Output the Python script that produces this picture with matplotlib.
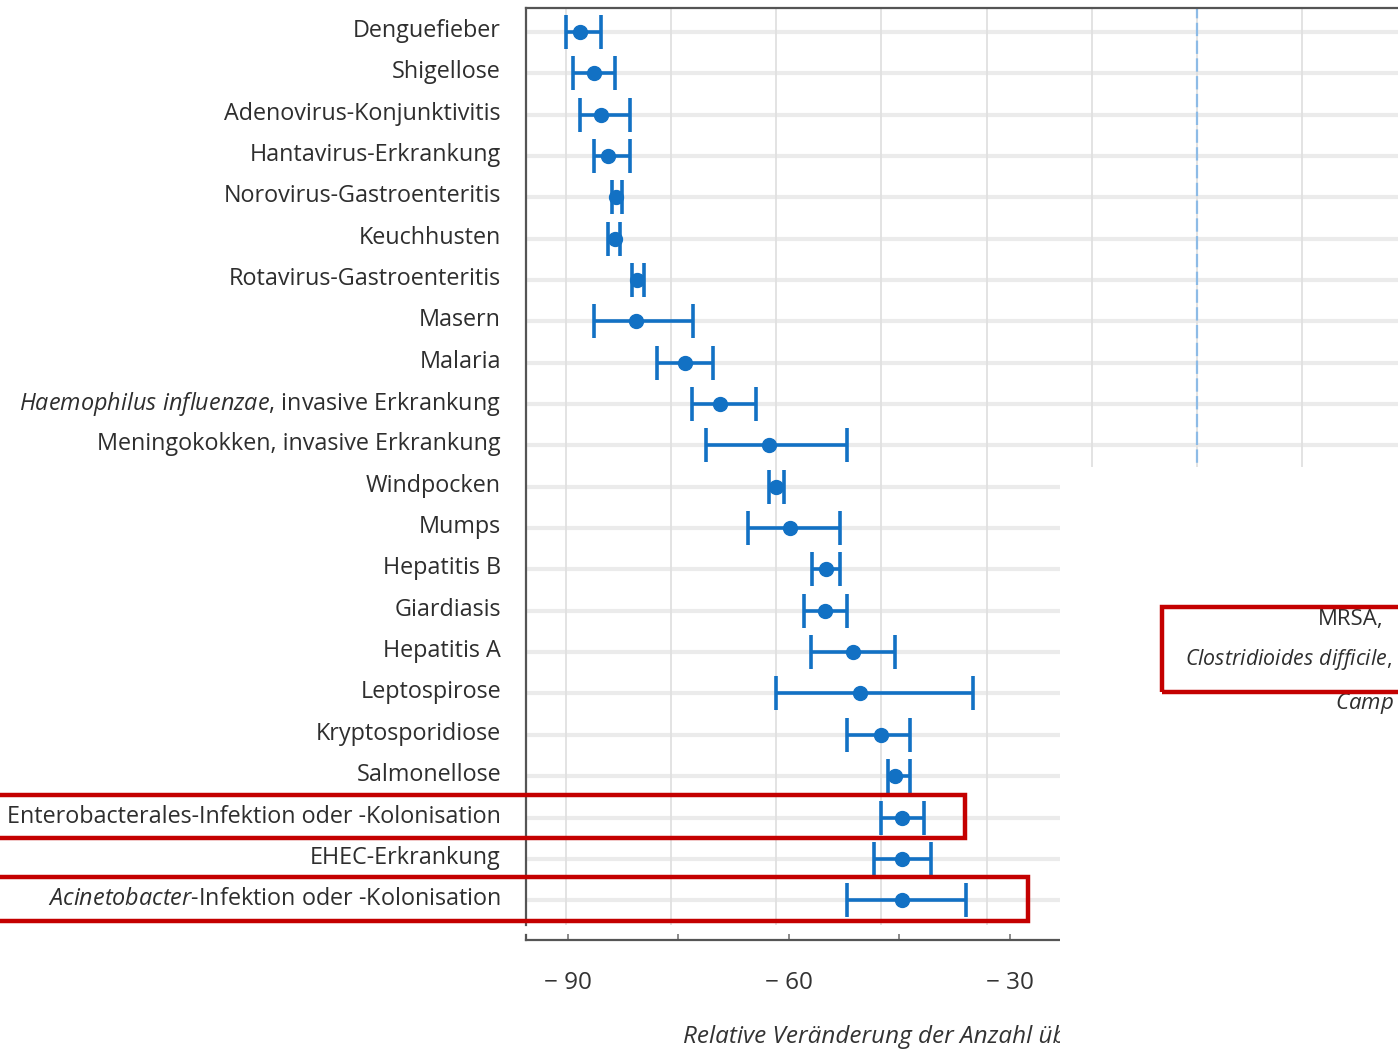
import matplotlib
matplotlib.use('Agg')
import matplotlib.pyplot as plt
import matplotlib.transforms as mtransforms
from matplotlib.patches import Rectangle

plt.rcParams['font.family'] = ['Open Sans', 'DejaVu Sans']
plt.rcParams['mathtext.fontset'] = 'custom'
plt.rcParams['mathtext.rm'] = 'Open Sans'
plt.rcParams['mathtext.it'] = 'Open Sans:italic'

diseases = [
    'Denguefieber', 'Shigellose', 'Adenovirus-Konjunktivitis', 'Hantavirus-Erkrankung',
    'Norovirus-Gastroenteritis', 'Keuchhusten', 'Rotavirus-Gastroenteritis', 'Masern',
    'Malaria', r'$\mathit{Haemophilus\ influenzae}$, invasive Erkrankung',
    'Meningokokken, invasive Erkrankung', 'Windpocken', 'Mumps', 'Hepatitis B',
    'Giardiasis', 'Hepatitis A', 'Leptospirose', 'Kryptosporidiose', 'Salmonellose',
    'Enterobacterales-Infektion oder -Kolonisation', 'EHEC-Erkrankung',
    r'$\mathit{Acinetobacter}$-Infektion oder -Kolonisation',
]
estimate = [-88.0, -86.0, -85.0, -84.0, -82.9, -83.0, -79.9, -80.0, -73.0, -68.0, -61.1,
            -60.1, -58.1, -52.9, -53.1, -49.1, -48.1, -45.1, -43.1, -42.1, -42.1, -42.1]
ci_low = [-90.0, -89.0, -88.0, -86.0, -83.5, -84.0, -80.6, -86.0, -77.0, -72.0, -70.0,
          -61.1, -64.1, -54.9, -56.1, -55.1, -60.1, -49.9, -44.1, -45.1, -46.1, -49.9]
ci_high = [-85.0, -83.0, -80.9, -80.9, -82.0, -82.3, -78.9, -71.9, -69.0, -62.9, -49.9,
           -58.9, -50.9, -50.9, -49.9, -43.1, -32.0, -40.9, -40.9, -38.9, -37.9, -33.0]
highlighted = [19, 21]
x_ticks = [-90, -75, -60, -45, -30]
x_ticklabels = ['\u2212 90', '', '\u2212 60', '', '\u2212 30']

# cut-off labels of the neighbouring panel
other_labels = ['MRSA,', r'$\mathit{Clostridioides\ difficile}$,', r'$\mathit{Camp}$']

blue = '#1271c4'
red = '#c40000'
txt = '#2e2e2e'
W, H = 1398, 1052

fig = plt.figure(figsize=(W / 100, H / 100), dpi=100)
ax = fig.add_axes([526 / W, 1 - 925 / H, 1 - 526 / W, (925 - 8) / H])

ypos = list(range(len(diseases)))
err = [[e - l for e, l in zip(estimate, ci_low)], [h - e for e, h in zip(estimate, ci_high)]]
ax.errorbar(estimate, ypos, xerr=err, fmt='o', color=blue, ms=10, elinewidth=2.6,
            capsize=12, capthick=2.6, zorder=3)
ax.axvline(0, color='#8dbbe6', lw=1.6, ls=(0, (6, 2)), zorder=2)

for y in ypos:
    ax.axhline(y, color='#ebebeb', lw=3, zorder=1)
for x in range(-90, 30, 15):
    ax.axvline(x, color='#e0e0e0', lw=1.3, zorder=1)

ax.set_xlim(-95.7, 28.7)
ax.set_ylim(21.6, -0.58)
ax.set_yticks(ypos)
ax.set_yticklabels(diseases, fontsize=16.8, color=txt)
ax.tick_params(axis='y', length=0, pad=18)
shift = mtransforms.ScaledTranslation(0, 4 / 100, fig.dpi_scale_trans)
for lab in ax.get_yticklabels():
    lab.set_transform(lab.get_transform() + shift)
ax.set_xticks([])
for s in ['bottom', 'right']:
    ax.spines[s].set_visible(False)
for s in ['top', 'left']:
    ax.spines[s].set_color('#555555')
    ax.spines[s].set_linewidth(1.6)

# separate bottom axis strip
bx = fig.add_axes([526 / W, 1 - 940 / H, (1060 - 526) / W, 5 / H])
bx.set_xlim(-95.7, -23.2)
bx.set_ylim(0, 1)
bx.set_xticks(x_ticks)
bx.set_xticklabels(x_ticklabels, fontsize=17.5, color='#333333')
bx.tick_params(axis='x', direction='in', length=4, width=1.2, color='#777777', pad=22)
bx.set_yticks([])
for s in ['top', 'right']:
    bx.spines[s].set_visible(False)
for s in ['bottom', 'left']:
    bx.spines[s].set_color('#555555')
    bx.spines[s].set_linewidth(1.6)
fig.text(683 / W, 1 - 1037 / H, 'Relative Veränderung der Anzahl über', fontsize=17.5,
         style='italic', color='#333333', ha='left', va='center')

# white patch over the right lower part
fig.add_artist(Rectangle((1060 / W, 0), 1 - 1060 / W, 1 - 467 / H, transform=fig.transFigure,
                         facecolor='white', edgecolor='none', zorder=10))

# red highlight boxes around rows
trans = mtransforms.blended_transform_factory(fig.transFigure, ax.transData)
box_right = {19: 965, 21: 1028}
for row in highlighted:
    fig.add_artist(Rectangle((-0.01, row - 0.55), box_right[row] / W + 0.01, 1.05,
                             transform=trans, facecolor='none', edgecolor=red, lw=3.2,
                             zorder=11))

fig.text(1318 / W, 1 - 620 / H, other_labels[0], fontsize=16, color=txt,
         ha='left', va='center', zorder=12)
fig.text(1185 / W, 1 - 660 / H, other_labels[1], fontsize=15.4, color=txt,
         ha='left', va='center', zorder=12)
fig.text(1335 / W, 1 - 703 / H, other_labels[2], fontsize=16, color=txt,
         ha='left', va='center', zorder=12)
fig.add_artist(Rectangle((1162 / W, 1 - 692 / H), 0.2, (692 - 607) / H,
                         transform=fig.transFigure, facecolor='none', edgecolor=red,
                         lw=3.2, zorder=13))

fig.savefig('out.png', dpi=100)
